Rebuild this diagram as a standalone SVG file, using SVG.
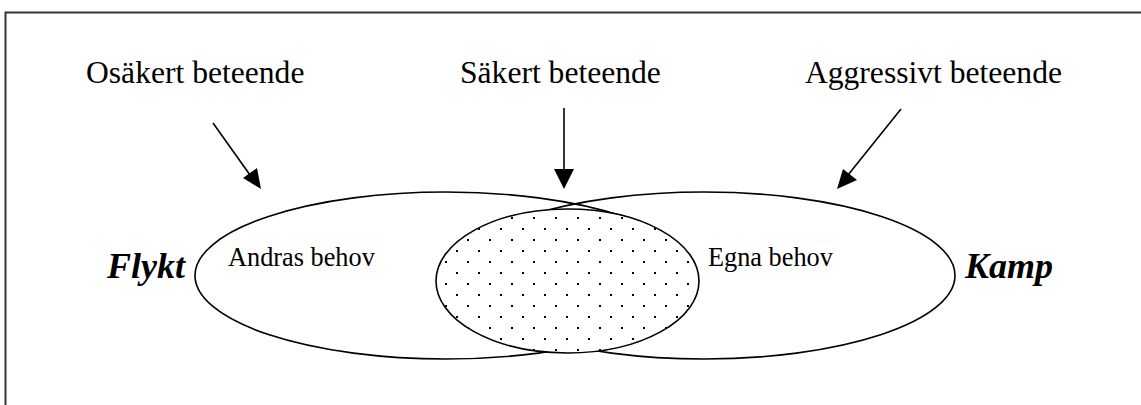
<svg xmlns="http://www.w3.org/2000/svg" width="1141" height="405" viewBox="0 0 1141 405">
<style>
.lbl{font-family:"Liberation Serif","Times New Roman",serif;fill:#000}
.big{font-size:31.6px}
.mid{font-size:26.3px}
.bi{font-size:36px;font-weight:bold;font-style:italic}
.shape{fill:none;stroke:#000;stroke-width:1.6}
.arr{stroke:#000;stroke-width:1.6;fill:none}
</style>
<defs>
<pattern id="dots" patternUnits="userSpaceOnUse" x="511" y="217" width="22" height="22">
<rect x="0" y="0" width="22" height="22" fill="#fff"/>
<rect x="0" y="0" width="2" height="2" fill="#000"/>
<rect x="11" y="11" width="2" height="2" fill="#000"/>
</pattern>
</defs>
<rect width="1141" height="405" fill="#fff"/>
<path d="M5.5,405 V12.5 H1141" fill="none" stroke="#333" stroke-width="2"/>
<g id="node-left">
<ellipse class="shape" cx="446" cy="275.5" rx="251" ry="83.5"/>
<text class="lbl mid" x="228" y="266">Andras behov</text>
</g>
<g id="node-right">
<ellipse class="shape" cx="704" cy="275.5" rx="251" ry="83.5"/>
<text class="lbl mid" x="708" y="266">Egna behov</text>
</g>
<g id="node-center">
<ellipse cx="567.5" cy="281" rx="131.5" ry="72" fill="url(#dots)" stroke="#000" stroke-width="1.6"/>
</g>
<g id="label-flykt"><text class="lbl bi" x="107" y="278">Flykt</text></g>
<g id="label-kamp"><text class="lbl bi" x="965" y="278">Kamp</text></g>
<g id="label-osakert"><text class="lbl big" x="86" y="83">Osäkert beteende</text></g>
<g id="label-sakert"><text class="lbl big" x="460" y="83">Säkert beteende</text></g>
<g id="label-aggressivt"><text class="lbl big" x="1062" y="83" text-anchor="end">Aggressivt beteende</text></g>
<g id="connectors">
<line class="arr" x1="213" y1="123" x2="250" y2="175"/>
<path d="M261,189 L243,178 L257,168 Z" fill="#000"/>
<line class="arr" x1="564" y1="108" x2="564" y2="170"/>
<path d="M564,189 L554,169 L574,169 Z" fill="#000"/>
<line class="arr" x1="901" y1="109" x2="848" y2="175"/>
<path d="M837,189 L843,169 L857,180 Z" fill="#000"/>
</g>
</svg>
